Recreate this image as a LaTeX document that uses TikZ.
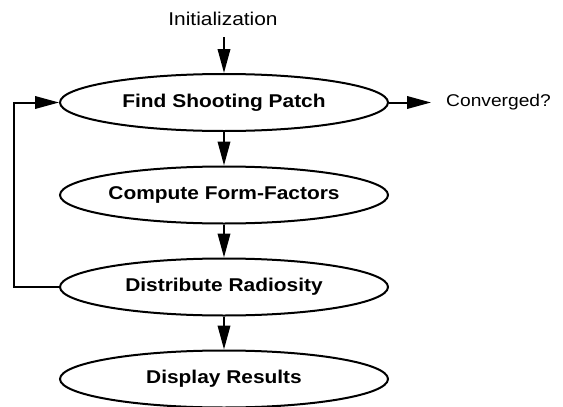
\documentclass[tikz,border=0pt]{standalone}
\usepackage{fontspec}
\setmainfont{Liberation Sans}[FakeStretch=1.13]
\usetikzlibrary{shapes.geometric,arrows.meta}
\begin{document}
\begin{tikzpicture}[x=1pt,y=-1pt,
  stage/.style={draw,line width=2pt,ellipse,minimum width=328pt,minimum height=57pt,inner sep=0pt,
    font=\fontsize{18.5}{20}\selectfont\bfseries},
  plain/.style={inner sep=0pt,font=\fontsize{18.5}{20}\selectfont},
  flow/.style={line width=2pt,-{Triangle[length=24pt,width=12.5pt]}}]
\useasboundingbox (0,0) rectangle (563,407);
\node[stage] (find) at (224,102.5) {Find Shooting Patch};
\node[stage] (comp) at (224,195) {Compute Form-Factors};
\node[stage] (dist) at (224,287) {Distribute Radiosity};
\node[stage] (disp) at (224,379) {Display Results};
\node[plain] (init) at (223,19) {Initialization};
\node[plain,anchor=west,font=\fontsize{17}{19}\selectfont] (conv) at (446,102) {Converged?};
\coordinate (initb) at (224,37);
\coordinate (convtip) at (431,102.5);
\draw[flow] (initb) -- (find.north);
\draw[flow] (find.south) -- (comp.north);
\draw[flow] (comp.south) -- (dist.north);
\draw[flow] (dist.south) -- (disp.north);
\draw[flow] (find.east) -- (convtip);
\draw[flow] (dist.west) -- (14,287) -- (14,102.5) -- (find.west);
\end{tikzpicture}
\end{document}
